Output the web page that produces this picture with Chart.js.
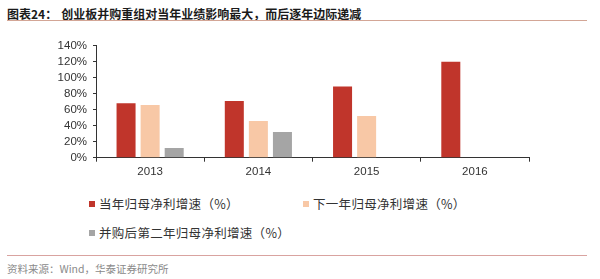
<!DOCTYPE html>
<html>
<head>
<meta charset="utf-8">
<script src="https://cdn.jsdelivr.net/npm/chart.js@4/dist/chart.umd.min.js"></script>
<style>
  body { margin: 0; width: 600px; height: 279px; background: #fff; position: relative; overflow: hidden; }
  #title { position: absolute; left: 7px; top: 5px; font: bold 12px "Noto Sans CJK SC", sans-serif; color: #1a1a1a; white-space: nowrap; }
  #title .num { margin-right: 4px; }
  #topLine { position: absolute; left: 7px; top: 20px; width: 580px; height: 0; border-top: 1.5px solid #d3a696; }
  #chartBox { position: absolute; left: 0; top: 30px; width: 600px; height: 150px; }
  #legend { position: absolute; left: 89px; top: 189px; display: grid; grid-template-columns: 214px auto; grid-auto-rows: 29px;
            font: 12.5px "Noto Sans CJK SC", sans-serif; color: #333; letter-spacing: 0.3px; }
  #legend .item { display: flex; align-items: center; white-space: nowrap; }
  #legend .box { width: 6px; height: 6px; margin-right: 4px; }
  #bottomLine { position: absolute; left: 7px; top: 255px; width: 580px; height: 0; border-top: 1.5px solid #d9a3a0; }
  #source { position: absolute; left: 7px; top: 261px; font: 10.5px "Noto Sans CJK SC", sans-serif; color: #8a8a8a; white-space: nowrap; }
</style>
</head>
<body>
<div id="title"><span class="num">图表24：</span>创业板并购重组对当年业绩影响最大，而后逐年边际递减</div>
<div id="topLine"></div>
<div id="chartBox"><canvas id="chart"></canvas></div>
<div id="legend"></div>
<div id="bottomLine"></div>
<div id="source">资料来源：Wind，华泰证券研究所</div>
<script>
// Data
const years = ['2013', '2014', '2015', '2016'];
const currentYearGrowth = [68, 71, 89, 120];
const nextYearGrowth = [66, 46, 52, null];
const secondYearGrowth = [12, 32, null, null];
const seriesNames = ['当年归母净利增速（%）', '下一年归母净利增速（%）', '并购后第二年归母净利增速（%）'];
const seriesColors = ['#c0352b', '#f8c8a6', '#a5a5a5'];

const ctx = document.getElementById('chart').getContext('2d');
const tickFont = { family: '"Liberation Sans", Arial, sans-serif', size: 11.5 };

const chart = new Chart(ctx, {
    type: 'bar',
    data: {
        labels: years,
        datasets: [currentYearGrowth, nextYearGrowth, secondYearGrowth].map((values, i) => ({
            label: seriesNames[i],
            data: values,
            backgroundColor: seriesColors[i],
            barPercentage: 0.79,
            categoryPercentage: 0.667
        }))
    },
    options: {
        responsive: true,
        maintainAspectRatio: false,
        animation: false,
        layout: { padding: { top: 15.7, right: 71, left: 0, bottom: 0 } },
        plugins: { legend: { display: false }, tooltip: { enabled: false } },
        scales: {
            x: {
                grid: { drawOnChartArea: false, drawTicks: true, tickLength: 4, color: '#333', offset: true },
                border: { color: '#333', width: 1 },
                ticks: { color: '#333', font: tickFont, padding: 3 },
                afterFit: (scale) => { scale.height = 22.3; }
            },
            y: {
                min: 0,
                max: 140,
                grid: { drawOnChartArea: false, drawTicks: true, tickLength: 3, color: '#333' },
                border: { color: '#333', width: 1 },
                ticks: { stepSize: 20, autoSkip: false, color: '#333', font: tickFont, padding: 6, callback: v => v + '%' },
                afterFit: (scale) => { scale.width = 96; }
            }
        }
    }
});

// Two-column legend built from the chart's datasets
const legendDiv = document.getElementById('legend');
chart.data.datasets.forEach(ds => {
    const item = document.createElement('div');
    item.className = 'item';
    item.innerHTML = `<span class="box" style="background:${ds.backgroundColor}"></span><span>${ds.label}</span>`;
    legendDiv.appendChild(item);
});
</script>
</body>
</html>
